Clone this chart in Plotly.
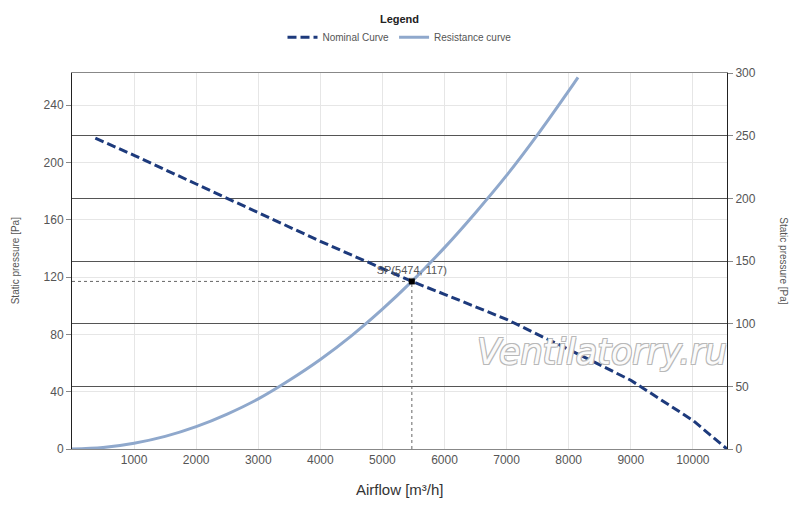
import plotly.graph_objects as go

# fan curve
nominal_flow = [376, 1000, 2000, 3000, 4000, 5000, 5474, 6000, 7000, 8000, 9000, 10000, 10550]
nominal_pressure = [217, 205, 185, 165, 145, 126, 117, 108, 90.5, 69.5, 48, 20, 0]

# system resistance curve
resist_flow = [0, 500, 1000, 1500, 2000, 2500, 3000, 3500, 4000, 4500, 5000, 5474, 6000, 6500, 7000, 7500, 8000, 8150]
resist_pressure = [0, 1, 4, 8.8, 15.6, 24.4, 35, 48, 62.5, 79, 97.6, 117, 140.6, 165, 191, 219.5, 250, 259.5]

# operating point
sp_flow = 5474
sp_pressure = 117

x_ticks = [1000, 2000, 3000, 4000, 5000, 6000, 7000, 8000, 9000, 10000]
left_ticks = [0, 40, 80, 120, 160, 200, 240]
right_ticks = [0, 50, 100, 150, 200, 250, 300]

tick_font = dict(family="Liberation Sans, Arial", size=12, color="#555")

fig = go.Figure()

fig.add_trace(go.Scatter(
    x=nominal_flow, y=nominal_pressure, mode="lines", name="Nominal Curve",
    line=dict(color="#1d3a7c", width=3, dash="9px,4px"),
))
fig.add_trace(go.Scatter(
    x=resist_flow, y=resist_pressure, mode="lines", name="Resistance curve",
    line=dict(color="#8fa8cc", width=3, shape="spline"),
))

# dotted guides to the operating point
fig.add_trace(go.Scatter(
    x=[0, sp_flow], y=[sp_pressure, sp_pressure], mode="lines", showlegend=False,
    line=dict(color="#666", width=1, dash="dot"), hoverinfo="skip",
))
fig.add_trace(go.Scatter(
    x=[sp_flow, sp_flow], y=[0, sp_pressure], mode="lines", showlegend=False,
    line=dict(color="#666", width=1, dash="dot"), hoverinfo="skip",
))
fig.add_trace(go.Scatter(
    x=[sp_flow], y=[sp_pressure], mode="markers+text", showlegend=False,
    marker=dict(color="black", size=6, symbol="square"),
    text=[f"SP({sp_flow}, {sp_pressure})"], textposition="top center",
    textfont=dict(family="Liberation Sans, Arial", size=11, color="#555"),
))

# dummy trace so the right axis is drawn
fig.add_trace(go.Scatter(x=[None], y=[None], yaxis="y2", showlegend=False))

# page body has an 8px margin, so the figure is a bit smaller than the window
fig.update_layout(
    width=792, height=499,
    margin=dict(l=64, r=73, t=65, b=58, autoexpand=False),
    plot_bgcolor="white", paper_bgcolor="white",
    font=dict(family="Liberation Sans, Arial", color="#444"),
    xaxis=dict(
        range=[0, 10550], tickvals=x_ticks, ticktext=[str(v) for v in x_ticks],
        tickfont=tick_font,
        showgrid=True, gridcolor="#e6e6e6", gridwidth=1,
        showline=True, linecolor="#888", linewidth=1, mirror=True,
        zeroline=False, ticks="", ticklen=4,
    ),
    yaxis=dict(
        range=[0, 262.5], tickvals=left_ticks, tickfont=tick_font,
        showgrid=True, gridcolor="#e6e6e6", gridwidth=1,
        showline=True, linecolor="#222", linewidth=1,
        zeroline=False, ticks="outside", ticklen=5, tickcolor="#888",
    ),
    yaxis2=dict(
        overlaying="y", side="right", range=[0, 300], tickvals=right_ticks,
        tickfont=tick_font, showgrid=True, gridcolor="#555", gridwidth=1,
        showline=True, linecolor="#222", linewidth=1,
        zeroline=False, ticks="outside", ticklen=5, tickcolor="#888",
    ),
    legend=dict(
        orientation="h", x=0.5, xanchor="center", y=1.172, yanchor="top",
        title=dict(text="<b>Legend</b>", side="top center",
                   font=dict(size=11, color="#222")),
        font=dict(size=10, color="#555"),
        bgcolor="rgba(0,0,0,0)", tracegroupgap=0,
    ),
    annotations=[
        dict(text="Static pressure [Pa]", xref="paper", yref="paper",
             x=-0.098, y=0.5, textangle=-90, showarrow=False,
             font=dict(size=10, color="#555")),
        dict(text="Static pressure [Pa]", xref="paper", yref="paper",
             x=1.098, y=0.5, textangle=90, showarrow=False,
             font=dict(size=10, color="#555")),
        dict(text="Airflow [m³/h]", xref="paper", yref="paper",
             x=0.5, y=-0.108, yanchor="middle", showarrow=False,
             font=dict(size=15, color="#333")),
        dict(text="<i>Ventilatorry.ru</i>", xref="paper", yref="paper",
             x=0.616, xanchor="left", y=0.258, yanchor="middle", showarrow=False,
             font=dict(family="DejaVu Sans", size=35, color="#fbfbfb",
                       shadow="1px 1px 0 #b8b8b8, -1px -1px 0 #b8b8b8, 1px -1px 0 #b8b8b8, -1px 1px 0 #b8b8b8")),
    ],
)

fig.write_html("out.html")
